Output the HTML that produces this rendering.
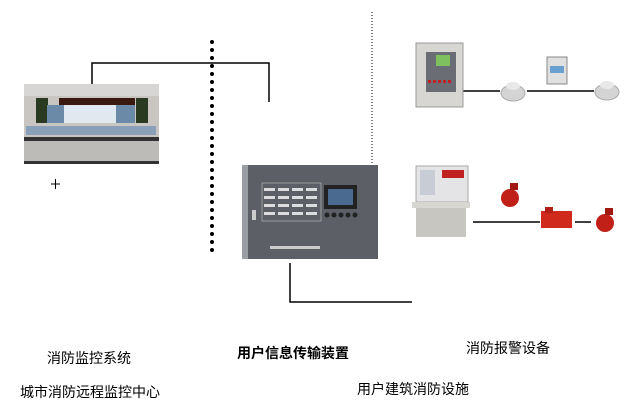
<!DOCTYPE html>
<html><head><meta charset="utf-8"><style>
body{margin:0;width:630px;height:417px;background:#fff;position:relative;overflow:hidden;font-family:"Liberation Sans","Noto Sans CJK SC",sans-serif}
.a{position:absolute}
.t{position:absolute;font-size:14px;line-height:16px;color:#000;white-space:nowrap}
</style></head><body>
<svg class="a" style="left:0;top:0" width="630" height="417">
<!-- big dotted line -->
<line x1="212" y1="42" x2="212" y2="252" stroke="#000" stroke-width="4" stroke-linecap="round" stroke-dasharray="0 8"/>
<!-- thin dotted line -->
<line x1="372" y1="12" x2="372" y2="165" stroke="#000" stroke-width="1" stroke-dasharray="1 2"/>
<polyline points="92,88 92,63 269,63 269,102" fill="none" stroke="#000" stroke-width="1.5"/>
<polyline points="290,263 290,302 412,302" fill="none" stroke="#000" stroke-width="1.5"/>
<line x1="463" y1="91" x2="500" y2="91" stroke="#000" stroke-width="1.5"/>
<line x1="527" y1="91" x2="594" y2="91" stroke="#000" stroke-width="1.5"/>
<line x1="473" y1="222" x2="540" y2="222" stroke="#000" stroke-width="1.5"/>
<line x1="575" y1="222" x2="591" y2="222" stroke="#000" stroke-width="1.5"/>
<!-- plus -->
<line x1="51" y1="184" x2="60" y2="184" stroke="#000"/><line x1="55.5" y1="179" x2="55.5" y2="189" stroke="#000"/>

<!-- control room -->
<rect x="24" y="84" width="135" height="80" fill="#c9c6c2"/>
<rect x="24" y="84" width="135" height="12" fill="#d8d6d4"/>
<rect x="59" y="98" width="76" height="7" fill="#3a1a10"/>
<rect x="36" y="98" width="12" height="25" fill="#2a3a20"/>
<rect x="136" y="98" width="12" height="25" fill="#2a3a20"/>
<rect x="47" y="105" width="88" height="18" fill="#6a8aa8"/>
<rect x="64" y="105" width="52" height="18" fill="#e2e8f0"/>
<rect x="26" y="126" width="130" height="9" fill="#8aa0b8"/>
<rect x="24" y="137" width="135" height="4" fill="#333"/>
<rect x="24" y="141" width="135" height="20" fill="#bdbbb8"/>
<rect x="24" y="161" width="135" height="3" fill="#333"/>

<!-- transmission panel -->
<rect x="242" y="165" width="136" height="94" fill="#5c6066"/>
<rect x="242" y="165" width="6" height="94" fill="#9a9ea2"/>
<rect x="262" y="183" width="59" height="38" fill="none" stroke="#aaa" stroke-width="0.8"/>
<g fill="#dcdcdc">
<rect x="264" y="188" width="11" height="3"/><rect x="278" y="188" width="11" height="3"/><rect x="292" y="188" width="11" height="3"/><rect x="306" y="188" width="11" height="3"/>
<rect x="264" y="196" width="11" height="3"/><rect x="278" y="196" width="11" height="3"/><rect x="292" y="196" width="11" height="3"/><rect x="306" y="196" width="11" height="3"/>
<rect x="264" y="204" width="11" height="3"/><rect x="278" y="204" width="11" height="3"/><rect x="292" y="204" width="11" height="3"/><rect x="306" y="204" width="11" height="3"/>
<rect x="264" y="212" width="11" height="3"/><rect x="278" y="212" width="11" height="3"/><rect x="292" y="212" width="11" height="3"/><rect x="306" y="212" width="11" height="3"/>
</g>
<rect x="324" y="185" width="33" height="24" fill="#222"/>
<rect x="328" y="189" width="25" height="16" fill="#4a6a90"/>
<g fill="#222"><circle cx="327" cy="215" r="2.5"/><circle cx="334" cy="215" r="2.5"/><circle cx="341" cy="215" r="2.5"/><circle cx="348" cy="215" r="2.5"/><circle cx="355" cy="215" r="2.5"/></g>
<rect x="270" y="246" width="50" height="3" fill="#ccc"/>
<rect x="252" y="210" width="4" height="10" fill="#ccc"/>

<!-- alarm panel -->
<rect x="416" y="43" width="47" height="64" fill="#d8d6d2" stroke="#999"/>
<rect x="426" y="52" width="30" height="40" fill="#6a6e74"/>
<rect x="436" y="55" width="14" height="11" fill="#7ec060"/>
<g fill="#c02020"><rect x="428" y="80" width="3" height="3"/><rect x="433" y="80" width="3" height="3"/><rect x="438" y="80" width="3" height="3"/><rect x="443" y="80" width="3" height="3"/><rect x="448" y="80" width="3" height="3"/></g>
<!-- detectors -->
<ellipse cx="513" cy="93" rx="12" ry="8" fill="#d4d4d4" stroke="#aaa"/>
<ellipse cx="513" cy="86" rx="7" ry="4" fill="#e8e8e8"/>
<ellipse cx="607" cy="92" rx="12" ry="8" fill="#d4d4d4" stroke="#aaa"/>
<ellipse cx="607" cy="85" rx="7" ry="4" fill="#e8e8e8"/>
<rect x="547" y="57" width="20" height="27" fill="#e0e0e0" stroke="#888"/>
<rect x="550" y="66" width="14" height="7" fill="#6aa0d0"/>
<!-- console -->
<rect x="416" y="166" width="52" height="36" fill="#e4e4e6" stroke="#aaa"/>
<rect x="420" y="170" width="15" height="25" fill="#c8ccd4"/>
<rect x="442" y="170" width="22" height="8" fill="#c02020"/>
<rect x="412" y="202" width="58" height="6" fill="#d8d6d0"/>
<rect x="416" y="208" width="50" height="29" fill="#c8c6c0"/>
<!-- pumps/valves -->
<circle cx="510" cy="198" r="9" fill="#c02018"/><rect x="510" y="183" width="8" height="7" fill="#a01810"/>
<rect x="541" y="211" width="31" height="17" fill="#d02a1c"/><rect x="545" y="207" width="8" height="6" fill="#b02015"/>
<circle cx="605" cy="223" r="9" fill="#c02018"/><rect x="605" y="208" width="8" height="7" fill="#a01810"/>
</svg>
<div class="t" style="left:47px;top:350px">消防监控系统</div>
<div class="t" style="left:237px;top:345px;font-weight:bold">用户信息传输装置</div>
<div class="t" style="left:466px;top:340px">消防报警设备</div>
<div class="t" style="left:20px;top:384px">城市消防远程监控中心</div>
<div class="t" style="left:357px;top:381px">用户建筑消防设施</div>
</body></html>
